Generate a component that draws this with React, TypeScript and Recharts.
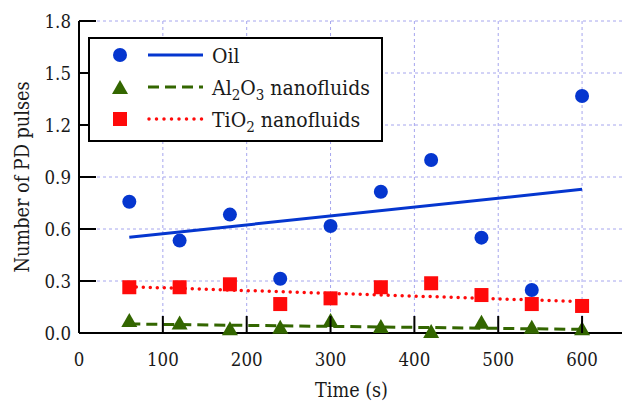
import React from "react"
import { ScatterChart, Scatter, XAxis, YAxis, CartesianGrid, Legend } from "recharts"

// time (s)
const times = [60, 120, 180, 240, 300, 360, 420, 480, 540, 600]
const oil = [0.757, 0.533, 0.683, 0.313, 0.617, 0.815, 0.998, 0.55, 0.248, 1.367]
const al2o3 = [0.075, 0.06, 0.027, 0.036, 0.075, 0.04, 0.011, 0.065, 0.036, 0.027]
const tio2 = [0.264, 0.264, 0.281, 0.167, 0.2, 0.264, 0.287, 0.219, 0.167, 0.156]

// linear fit end points
const fitX = [60, 600]
const oilFit = [0.552, 0.829]
const al2o3Fit = [0.052, 0.021]
const tio2Fit = [0.267, 0.181]

const xTicks = [0, 100, 200, 300, 400, 500, 600]
const yTicks = [0, 0.3, 0.6, 0.9, 1.2, 1.5, 1.8]

const BLUE = "#0536cf"
const GREEN = "#336600"
const RED = "#ff0a0a"
const FONT = '"DejaVu Serif Condensed", "DejaVu Serif", serif'
const INK = "#1a1a1a"
const TICK_LEN = 17

const txt = (size: number) => ({ fontFamily: FONT, fontSize: size })

const toPoints = (xs: number[], ys: number[]) => xs.map((x, i) => ({ x, y: ys[i] }))

const Circle = ({ cx, cy }: any) => <circle cx={cx} cy={cy} r={7} fill={BLUE} />
const Square = ({ cx, cy }: any) => <rect x={cx - 7} y={cy - 7} width={14} height={14} fill={RED} />
const Triangle = ({ cx, cy }: any) => (
  <polygon points={`${cx},${cy - 7} ${cx + 8},${cy + 7} ${cx - 8},${cy + 7}`} fill={GREEN} />
)
const NoShape = () => <g />

const BottomTick = ({ x, y, payload }: any) => (
  <g>
    <line x1={x} y1={y} x2={x} y2={y - TICK_LEN} stroke="#000" strokeWidth={2} />
    <text x={x} y={y + 33} textAnchor="middle" style={txt(18.5)} fill={INK}>
      {payload.value}
    </text>
  </g>
)

const TopTick = ({ x, y }: any) => <line x1={x} y1={y} x2={x} y2={y + TICK_LEN} stroke="#000" strokeWidth={2} />

const LeftTick = ({ x, y, payload }: any) => (
  <g>
    <line x1={x} y1={y} x2={x + TICK_LEN} y2={y} stroke="#000" strokeWidth={2} />
    <text x={x - 8} y={y + 7} textAnchor="end" style={txt(18.5)} fill={INK}>
      {Number(payload.value).toFixed(1)}
    </text>
  </g>
)

const RightTick = ({ x, y }: any) => <line x1={x} y1={y} x2={x - TICK_LEN} y2={y} stroke="#000" strokeWidth={2} />

const LegendBox = () => {
  const rows = [55 - 37, 87 - 37, 119 - 37]
  return (
    <svg width={295} height={105} style={{ display: "block" }}>
      <rect x={1} y={1} width={293} height={103} fill="#fff" stroke="#000" strokeWidth={2} />
      <circle cx={32} cy={rows[0]} r={7} fill={BLUE} />
      <line x1={60} x2={115} y1={rows[0]} y2={rows[0]} stroke={BLUE} strokeWidth={3} />
      <text x={124} y={rows[0] + 8} style={txt(21)} fill={INK}>Oil</text>

      <polygon points={`32,${rows[1] - 7} 40,${rows[1] + 7} 24,${rows[1] + 7}`} fill={GREEN} />
      <line x1={60} x2={115} y1={rows[1]} y2={rows[1]} stroke={GREEN} strokeWidth={3} strokeDasharray="11 6" />
      <text x={124} y={rows[1] + 8} style={txt(21)} fill={INK}>
        Al<tspan style={txt(15)} dy={5}>2</tspan>
        <tspan dy={-5}>O</tspan>
        <tspan style={txt(15)} dy={5}>3</tspan>
        <tspan dy={-5}> nanofluids</tspan>
      </text>

      <rect x={25} y={rows[2] - 7} width={14} height={14} fill={RED} />
      <line
        x1={61}
        x2={115}
        y1={rows[2]}
        y2={rows[2]}
        stroke={RED}
        strokeWidth={3.5}
        strokeDasharray="0 7.5"
        strokeLinecap="round"
      />
      <text x={124} y={rows[2] + 8} style={txt(21)} fill={INK}>
        TiO<tspan style={txt(15)} dy={5}>2</tspan>
        <tspan dy={-5}> nanofluids</tspan>
      </text>
    </svg>
  )
}

export default function App() {
  const axisLine = { stroke: "#000", strokeWidth: 2 }
  return (
    <div
      style={{
        position: "absolute",
        left: 0,
        top: 0,
        width: 622,
        height: 402,
        overflow: "hidden",
        background: "#fff",
      }}
    >
      <ScatterChart width={624} height={402} margin={{ top: 21, right: 0, bottom: 0, left: 0 }}>
        <CartesianGrid stroke="#a6a6ee" strokeDasharray="3 3" />
        <XAxis
          type="number"
          dataKey="x"
          domain={[0, 650]}
          ticks={xTicks}
          height={69}
          axisLine={axisLine}
          tickLine={false}
          tickSize={0}
          tickMargin={0}
          tick={BottomTick}
          label={{
            content: ({ viewBox }: any) => (
              <text
                x={viewBox.x + viewBox.width / 2}
                y={viewBox.y + 64}
                textAnchor="middle"
                style={txt(20)}
                fill={INK}
                textLength={73}
                lengthAdjust="spacingAndGlyphs"
              >
                Time (s)
              </text>
            ),
          }}
        />
        <XAxis
          xAxisId="top"
          orientation="top"
          type="number"
          dataKey="x"
          domain={[0, 650]}
          ticks={xTicks.slice(1)}
          height={0}
          axisLine={axisLine}
          tickLine={false}
          tickSize={0}
          tickMargin={0}
          tick={TopTick}
        />
        <YAxis
          type="number"
          dataKey="y"
          domain={[0, 1.8]}
          ticks={yTicks}
          width={79}
          axisLine={axisLine}
          tickLine={false}
          tickSize={0}
          tickMargin={0}
          tick={LeftTick}
          label={{
            content: ({ viewBox }: any) => {
              const cx = 28.5
              const cy = viewBox.y + viewBox.height / 2
              return (
                <text
                  x={cx}
                  y={cy}
                  transform={`rotate(-90, ${cx}, ${cy})`}
                  textAnchor="middle"
                  style={txt(20)}
                  fill={INK}
                  textLength={191}
                  lengthAdjust="spacingAndGlyphs"
                >
                  Number of PD pulses
                </text>
              )
            },
          }}
        />
        <YAxis
          yAxisId="right"
          orientation="right"
          type="number"
          dataKey="y"
          domain={[0, 1.8]}
          ticks={yTicks.slice(1, -1)}
          width={0}
          axisLine={axisLine}
          tickLine={false}
          tickSize={0}
          tickMargin={0}
          tick={RightTick}
        />
        <Legend
          layout="vertical"
          align="center"
          verticalAlign="middle"
          wrapperStyle={{ left: 88, top: 37, width: 295, height: 105 }}
          content={() => <LegendBox />}
        />

        <Scatter
          name="Oil fit"
          data={toPoints(fitX, oilFit)}
          fill={BLUE}
          line={{ stroke: BLUE, strokeWidth: 3 }}
          shape={NoShape}
          legendType="none"
          isAnimationActive={false}
        />
        <Scatter
          name="Al2O3 fit"
          data={toPoints(fitX, al2o3Fit)}
          fill={GREEN}
          line={{ stroke: GREEN, strokeWidth: 3, strokeDasharray: "11 6" }}
          shape={NoShape}
          legendType="none"
          isAnimationActive={false}
        />
        <Scatter
          name="TiO2 fit"
          data={toPoints(fitX, tio2Fit)}
          fill={RED}
          line={{ stroke: RED, strokeWidth: 3.5, strokeDasharray: "0 7", strokeLinecap: "round" }}
          shape={NoShape}
          legendType="none"
          isAnimationActive={false}
        />

        <Scatter name="Oil" data={toPoints(times, oil)} fill={BLUE} shape={Circle} isAnimationActive={false} />
        <Scatter name="Al2O3 nanofluids" data={toPoints(times, al2o3)} fill={GREEN} shape={Triangle} isAnimationActive={false} />
        <Scatter name="TiO2 nanofluids" data={toPoints(times, tio2)} fill={RED} shape={Square} isAnimationActive={false} />
      </ScatterChart>
    </div>
  )
}
